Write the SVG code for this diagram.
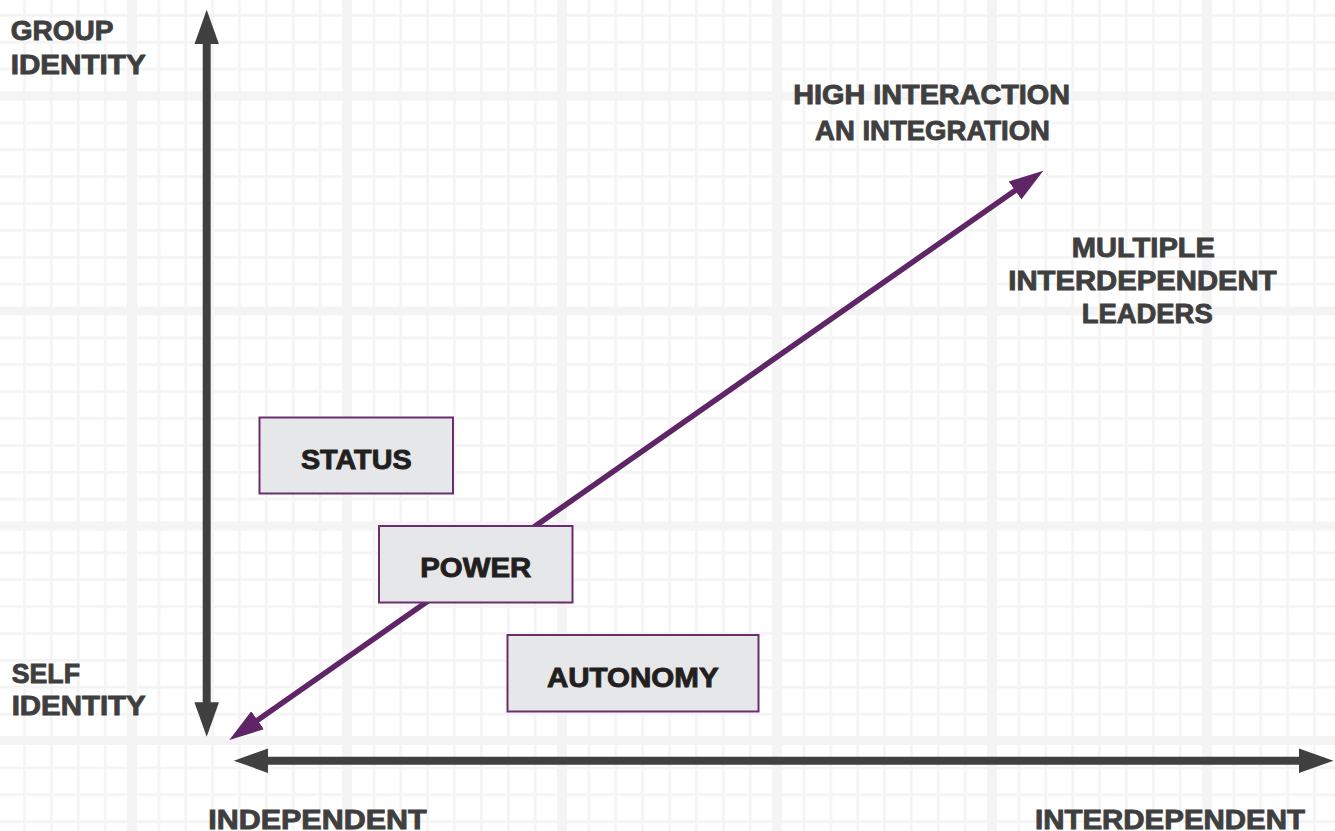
<svg xmlns="http://www.w3.org/2000/svg" width="1335" height="831" viewBox="0 0 1335 831">
  <style>
    .lbl { font-family: "Liberation Sans", Arial, sans-serif; font-weight: bold; font-size: 27px; fill: #3f3f3f; stroke: #3f3f3f; stroke-width: 0.9; }
    .box { fill: #e6e7e8; stroke: #6a2e70; stroke-width: 2; }
    .boxtxt { font-family: "Liberation Sans", Arial, sans-serif; font-weight: bold; font-size: 27px; fill: #231f20; stroke: #231f20; stroke-width: 0.9; text-anchor: middle; }
    .axis { stroke: #404040; stroke-width: 8; fill: none; }
    .diag { stroke: #5f2566; stroke-width: 5.5; fill: none; }
    .thick { fill: #f4f4f4; }
  </style>
  <defs>
    <pattern id="grid" patternUnits="userSpaceOnUse" x="130.65" y="94.65" width="26.875" height="26.875">
      <rect x="0" y="0" width="2.7" height="26.875" fill="#f4f4f4"/>
      <rect x="0" y="0" width="26.875" height="2.7" fill="#f4f4f4"/>
    </pattern>
    <marker id="axHead" markerUnits="userSpaceOnUse" markerWidth="36" markerHeight="26" viewBox="0 -13 36 26" refX="1" refY="0" orient="auto-start-reverse">
      <path d="M0,-12.3 L34.5,0 L0,12.3 Z" fill="#404040"/>
    </marker>
    <marker id="diagHead" markerUnits="userSpaceOnUse" markerWidth="36" markerHeight="24" viewBox="0 -12 36 24" refX="1" refY="0" orient="auto-start-reverse">
      <path d="M0,-11 L34.5,0 L0,11 Z" fill="#5f2566"/>
    </marker>
  </defs>

  <g id="background">
    <rect x="0" y="0" width="1335" height="831" fill="#ffffff"/>
    <rect x="0" y="0" width="1335" height="831" fill="url(#grid)"/>
    <rect class="thick" x="127" y="0" width="10" height="831"/>
    <rect class="thick" x="342" y="0" width="10" height="831"/>
    <rect class="thick" x="557" y="0" width="10" height="831"/>
    <rect class="thick" x="772" y="0" width="10" height="831"/>
    <rect class="thick" x="987" y="0" width="10" height="831"/>
    <rect class="thick" x="1202" y="0" width="10" height="831"/>
    <rect class="thick" x="0" y="91.5" width="1335" height="9"/>
    <rect class="thick" x="0" y="306.5" width="1335" height="9"/>
    <rect class="thick" x="0" y="521.5" width="1335" height="9"/>
    <rect class="thick" x="0" y="736" width="1335" height="9"/>
  </g>

  <g id="connectors">
    <line id="y-axis" class="axis" x1="206.7" y1="43.3" x2="206.7" y2="703.3" marker-start="url(#axHead)" marker-end="url(#axHead)"/>
    <line id="x-axis" class="axis" x1="267.3" y1="760.7" x2="1300" y2="760.7" marker-start="url(#axHead)" marker-end="url(#axHead)"/>
    <line id="diagonal" class="diag" x1="256.75" y1="720.8" x2="1015.85" y2="189.9" marker-start="url(#diagHead)" marker-end="url(#diagHead)"/>
  </g>

  <g id="label-group-identity">
    <text class="lbl" x="10.7" y="40" textLength="102.7" lengthAdjust="spacingAndGlyphs">GROUP</text>
    <text class="lbl" x="10.7" y="74" textLength="135" lengthAdjust="spacingAndGlyphs">IDENTITY</text>
  </g>
  <g id="label-self-identity">
    <text class="lbl" x="11.7" y="682.7" textLength="68.3" lengthAdjust="spacingAndGlyphs">SELF</text>
    <text class="lbl" x="11.7" y="715" textLength="134" lengthAdjust="spacingAndGlyphs">IDENTITY</text>
  </g>
  <g id="label-high-interaction">
    <text class="lbl" x="793.3" y="104.3" textLength="276.7" lengthAdjust="spacingAndGlyphs">HIGH INTERACTION</text>
    <text class="lbl" x="815" y="139.5" textLength="235" lengthAdjust="spacingAndGlyphs">AN INTEGRATION</text>
  </g>
  <g id="label-multiple-leaders">
    <text class="lbl" x="1071.7" y="256.7" textLength="143.3" lengthAdjust="spacingAndGlyphs">MULTIPLE</text>
    <text class="lbl" x="1008.3" y="290" textLength="268.3" lengthAdjust="spacingAndGlyphs">INTERDEPENDENT</text>
    <text class="lbl" x="1081.7" y="323.3" textLength="131" lengthAdjust="spacingAndGlyphs">LEADERS</text>
  </g>
  <g id="label-independent">
    <text class="lbl" x="208.3" y="828.5" textLength="218.3" lengthAdjust="spacingAndGlyphs">INDEPENDENT</text>
  </g>
  <g id="label-interdependent">
    <text class="lbl" x="1035" y="828.5" textLength="270" lengthAdjust="spacingAndGlyphs">INTERDEPENDENT</text>
  </g>

  <g id="node-status">
    <rect class="box" x="259.5" y="417.5" width="193.5" height="76"/>
    <text class="boxtxt" x="356.25" y="469" textLength="110.7" lengthAdjust="spacingAndGlyphs">STATUS</text>
  </g>
  <g id="node-power">
    <rect class="box" x="379" y="526" width="193.5" height="76.5"/>
    <text class="boxtxt" x="475.75" y="577.3" textLength="111" lengthAdjust="spacingAndGlyphs">POWER</text>
  </g>
  <g id="node-autonomy">
    <rect class="box" x="507.5" y="635" width="251" height="76.5"/>
    <text class="boxtxt" x="632.75" y="686.7" textLength="171.7" lengthAdjust="spacingAndGlyphs">AUTONOMY</text>
  </g>
</svg>
